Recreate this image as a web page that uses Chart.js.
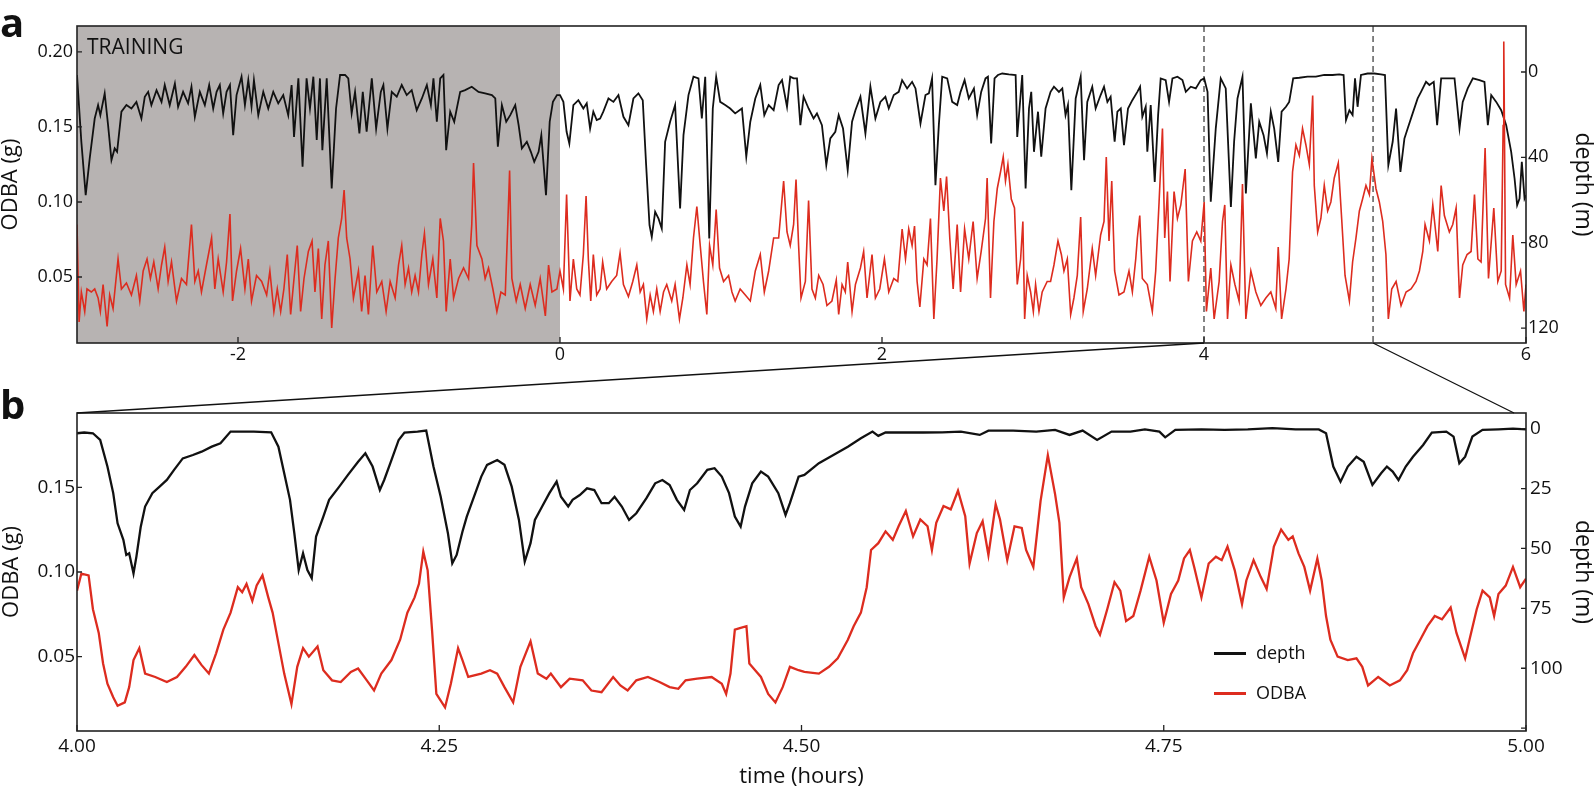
<!DOCTYPE html>
<html>
<head>
<meta charset="utf-8">
<script src="https://cdn.jsdelivr.net/npm/chart.js@4.4.1/dist/chart.umd.min.js"></script>
<style>
  body { margin: 0; background: #fff; }
  #wrap { position: relative; width: 1594px; height: 791px; font-family: "Open Sans", sans-serif; color: #111; }
  canvas { position: absolute; left: 0; top: 0; }
  .tag { position: absolute; font-weight: bold; font-size: 40px; line-height: 1; }
  .note { position: absolute; font-size: 21px; line-height: 1; }
  .key { position: absolute; height: 2.5px; width: 32px; }
  .keytxt { position: absolute; font-size: 18px; line-height: 20px; }
</style>
</head>
<body>
<div id="wrap">
  <canvas id="chartA" width="1594" height="791"></canvas>
  <canvas id="chartB" width="1594" height="791"></canvas>
  <div class="tag" style="left:0px; top:2px">a</div>
  <div class="tag" style="left:0px; top:384px">b</div>
  <div class="note" style="left:87px; top:36px">TRAINING</div>
  <div class="key" style="left:1214px; top:652px; background:#111"></div>
  <div class="keytxt" style="left:1256px; top:642px">depth</div>
  <div class="key" style="left:1214px; top:692px; background:#dd2c1f"></div>
  <div class="keytxt" style="left:1256px; top:682px">ODBA</div>
</div>
<script>
// panel a: whole record (hours), depth in m, ODBA in g
const aDepthTime = [
  -3.0,-2.973,-2.946,-2.921,-2.890,-2.869,-2.855,-2.828,-2.807,-2.786,-2.766,-2.751,-2.724,-2.693,-2.662,-2.631,-2.600,-2.579,-2.558,-2.538,
  -2.506,-2.475,-2.455,-2.424,-2.392,-2.372,-2.341,-2.310,-2.289,-2.268,-2.237,-2.206,-2.179,-2.154,-2.133,-2.113,-2.092,-2.071,-2.050,-2.030,
  -2.009,-1.978,-1.957,-1.936,-1.916,-1.901,-1.874,-1.843,-1.812,-1.781,-1.750,-1.719,-1.688,-1.667,-1.652,-1.625,-1.599,-1.574,-1.553,-1.532,
  -1.511,-1.491,-1.476,-1.449,-1.418,-1.391,-1.366,-1.335,-1.315,-1.294,-1.273,-1.246,-1.225,-1.201,-1.169,-1.142,-1.113,-1.097,-1.072,-1.045,
  -1.014,-0.983,-0.952,-0.921,-0.890,-0.858,-0.827,-0.802,-0.786,-0.765,-0.744,-0.724,-0.707,-0.682,-0.657,-0.641,-0.620,-0.589,-0.548,-0.506,
  -0.465,-0.423,-0.402,-0.386,-0.361,-0.334,-0.309,-0.278,-0.257,-0.237,-0.206,-0.181,-0.160,-0.133,-0.116,-0.087,-0.064,-0.044,-0.019,
  0.000,0.021,0.041,0.058,0.083,0.114,0.145,0.166,0.187,0.207,0.228,0.249,0.269,0.301,0.332,0.363,0.394,0.425,0.456,0.487,
  0.514,0.535,0.556,0.570,0.591,0.612,0.632,0.653,0.684,0.715,0.746,0.767,0.798,0.829,0.860,0.881,0.902,0.927,0.949,0.970,
  0.995,1.026,1.057,1.088,1.130,1.157,1.182,1.213,1.244,1.269,1.296,1.327,1.358,1.379,1.410,1.430,1.451,1.472,1.493,1.513,
  1.544,1.575,1.596,1.627,1.654,1.679,1.710,1.731,1.758,1.787,1.814,1.835,1.866,1.897,1.928,1.959,1.990,2.021,2.042,2.073,
  2.104,2.125,2.156,2.187,2.208,2.239,2.270,2.291,2.311,2.332,2.353,2.374,2.405,2.436,2.467,2.488,2.513,2.539,2.571,2.591,
  2.616,2.643,2.658,2.678,2.699,2.720,2.747,2.788,2.830,2.840,2.871,2.892,2.913,2.927,2.944,2.969,2.989,
  3.016,3.047,3.068,3.099,3.120,3.140,3.155,3.176,3.203,3.234,3.255,3.275,3.306,3.327,3.358,3.379,3.400,3.420,3.445,3.462,
  3.483,3.503,3.528,3.555,3.586,3.603,3.617,3.638,3.648,3.669,3.694,3.715,3.731,3.762,3.783,3.804,3.835,3.866,3.887,3.918,
  3.949,3.980,4.001,4.022,4.042,4.073,4.104,4.135,4.167,4.187,4.208,4.239,4.260,4.291,4.322,4.343,4.370,4.391,4.415,4.436,
  4.461,4.482,4.509,4.529,4.554,4.592,4.643,4.695,4.747,4.799,4.840,4.867,4.882,4.903,4.923,4.938,4.954,4.975,5.016,5.058,
  5.099,5.124,5.145,5.172,5.193,5.220,5.245,5.265,5.296,5.327,5.348,5.379,5.400,5.427,5.448,5.473,5.514,5.556,5.587,5.607,
  5.638,5.670,5.711,5.742,5.763,5.784,5.815,5.846,5.877,5.908,5.929,5.945,5.960,5.974,5.991,6.000
];
const aDepth = [
  1.4,32.7,57.7,40.5,21.8,15.5,20.2,10.0,24.9,41.3,35.8,37.4,18.6,15.5,17.1,14.0,21.8,11.6,9.3,15.5,
  8.5,14.0,6.1,15.5,5.4,16.3,9.3,14.7,6.9,21.0,9.3,15.5,6.1,17.1,9.3,6.1,19.4,9.3,6.1,29.6,
  10.8,2.2,15.5,3.8,16.3,3.8,20.2,9.3,17.1,9.3,14.7,10.8,20.2,6.1,30.4,3.0,44.4,3.0,17.1,2.2,
  31.9,3.0,36.6,3.0,54.6,17.1,1.4,1.4,3.0,19.4,9.3,28.8,9.3,28.0,3.0,26.5,9.3,6.1,26.5,9.3,
  11.6,6.1,10.8,8.5,17.9,12.4,6.1,15.5,3.0,23.3,3.0,1.4,36.6,18.6,23.3,17.1,9.3,8.5,6.9,9.3,
  10.0,10.8,12.4,35.0,15.5,23.3,20.2,15.5,24.9,35.8,32.7,37.4,42.1,37.4,29.6,57.7,23.3,14.0,10.8,
  10.8,14.0,28.0,33.5,15.5,13.2,17.1,14.7,26.5,18.6,22.5,21.8,18.6,12.4,14.0,10.8,21.0,24.9,12.4,10.0,
  13.2,43.6,71.8,77.3,65.5,68.7,73.3,32.7,23.3,15.5,64.0,29.6,10.8,2.2,3.0,21.8,2.2,78.0,17.1,2.2,
  14.0,15.5,17.1,19.4,17.1,39.7,23.3,12.4,6.1,20.2,15.5,17.9,6.1,3.8,16.3,2.2,3.0,3.0,24.9,11.6,
  17.1,21.8,19.4,24.9,43.6,31.1,28.0,20.2,26.5,46.0,23.3,17.9,11.6,28.8,6.9,21.8,14.0,11.6,17.1,10.8,
  9.3,3.8,7.7,4.6,7.7,24.1,10.8,10.0,3.0,53.0,24.9,2.2,3.0,14.0,15.5,9.3,3.8,12.4,7.7,20.2,
  9.3,3.0,2.2,33.5,3.0,1.4,0.7,1.1,1.4,30.4,1.4,54.6,17.1,9.3,37.4,18.6,39.7,
  17.1,9.3,6.9,9.3,7.7,20.2,15.5,55.4,12.4,2.2,41.3,14.0,6.9,17.1,10.8,6.9,14.0,11.6,32.7,18.6,
  17.1,34.3,17.1,13.2,9.3,6.9,21.0,16.3,37.4,15.5,51.5,20.2,3.0,3.8,14.0,3.0,2.2,3.8,9.3,6.9,
  7.7,3.8,3.0,9.3,60.8,26.5,3.0,7.7,63.2,32.7,12.4,2.2,56.9,14.7,40.5,23.3,29.6,38.2,18.6,26.5,
  42.1,18.6,16.3,14.0,3.0,2.7,2.2,2.2,1.4,1.4,1.1,1.4,22.5,17.9,20.2,3.0,16.3,1.4,0.7,0.7,
  1.1,1.4,43.6,32.7,17.1,46.8,31.1,26.5,19.4,12.4,9.3,4.6,6.1,4.6,24.9,3.0,3.0,3.0,26.5,14.0,
  7.7,3.0,3.8,4.6,24.9,10.8,14.0,17.9,24.9,37.4,49.9,62.4,59.3,42.1,59.3,57.7
];
const aOdbaTime = [
  -3.0,-2.987,-2.973,-2.952,-2.938,-2.911,-2.890,-2.869,-2.855,-2.838,-2.813,-2.797,-2.776,-2.745,-2.724,-2.693,-2.662,-2.631,-2.610,-2.589,
  -2.565,-2.544,-2.523,-2.496,-2.475,-2.455,-2.434,-2.413,-2.382,-2.351,-2.320,-2.289,-2.268,-2.247,-2.227,-2.196,-2.164,-2.144,-2.123,-2.092,
  -2.071,-2.050,-2.034,-2.009,-1.984,-1.957,-1.936,-1.916,-1.885,-1.853,-1.822,-1.802,-1.777,-1.756,-1.735,-1.715,-1.694,-1.673,-1.652,-1.632,
  -1.611,-1.590,-1.563,-1.540,-1.522,-1.501,-1.480,-1.460,-1.439,-1.418,-1.397,-1.377,-1.356,-1.341,-1.325,-1.304,-1.283,-1.252,-1.232,-1.211,
  -1.190,-1.163,-1.138,-1.107,-1.080,-1.055,-1.024,-1.003,-0.983,-0.962,-0.941,-0.921,-0.900,-0.879,-0.858,-0.842,-0.817,-0.790,-0.765,-0.744,
  -0.724,-0.707,-0.682,-0.661,-0.630,-0.599,-0.568,-0.548,-0.537,-0.516,-0.485,-0.465,-0.444,-0.417,-0.392,-0.367,-0.340,-0.326,-0.313,-0.299,
  -0.272,-0.247,-0.216,-0.185,-0.154,-0.123,-0.091,-0.071,-0.050,-0.019,
  0.000,0.021,0.041,0.062,0.083,0.104,0.124,0.145,0.162,0.176,0.191,0.207,0.228,0.249,0.265,0.290,0.321,0.352,0.373,0.394,
  0.425,0.452,0.477,0.498,0.518,0.539,0.560,0.580,0.601,0.622,0.643,0.663,0.694,0.715,0.742,0.763,0.788,0.808,0.829,0.850,
  0.871,0.891,0.912,0.929,0.949,0.970,0.991,1.016,1.047,1.068,1.088,1.119,1.151,1.182,1.213,1.244,1.269,1.296,1.327,1.358,
  1.389,1.410,1.430,1.451,1.466,1.482,1.497,1.524,1.544,1.565,1.586,1.607,1.634,1.658,1.689,1.716,1.731,1.752,1.772,1.787,
  1.814,1.835,1.866,1.886,1.907,1.938,1.959,1.986,2.015,2.042,2.073,2.098,2.125,2.146,2.166,2.187,2.202,2.218,2.235,2.260,
  2.280,2.301,2.322,2.342,2.363,2.384,2.401,2.421,2.442,2.467,2.488,2.513,2.539,2.566,2.591,2.616,2.643,2.653,2.674,2.695,
  2.716,2.736,2.753,2.767,2.782,2.803,2.823,2.840,2.861,2.875,2.886,2.902,2.923,2.940,2.954,2.975,
  2.995,3.026,3.047,3.068,3.093,3.114,3.130,3.151,3.172,3.192,3.213,3.234,3.250,3.275,3.306,3.327,3.358,3.379,3.393,3.410,
  3.427,3.445,3.472,3.503,3.534,3.555,3.576,3.586,3.601,3.617,3.648,3.679,3.700,3.721,3.742,3.756,3.773,3.789,3.814,3.835,
  3.856,3.883,3.903,3.928,3.955,3.980,4.001,4.015,4.042,4.063,4.094,4.115,4.129,4.146,4.167,4.192,4.218,4.239,4.260,4.291,
  4.322,4.353,4.384,4.415,4.446,4.461,4.482,4.509,4.529,4.550,4.571,4.592,4.612,4.633,4.654,4.675,4.685,4.706,4.726,4.747,
  4.768,4.788,4.809,4.834,4.855,4.876,4.903,4.923,4.944,4.965,4.985,5.006,5.027,5.043,5.068,5.089,5.110,5.130,5.145,5.166,
  5.193,5.224,5.255,5.286,5.317,5.338,5.359,5.373,5.400,5.421,5.452,5.473,5.493,5.524,5.545,5.566,5.587,5.607,5.634,5.659,
  5.680,5.701,5.721,5.746,5.767,5.800,5.825,5.846,5.858,5.862,5.866,5.873,5.898,5.918,5.939,5.966,5.987,6.000
];
const aOdba = [
  0.085,0.020,0.040,0.027,0.042,0.040,0.042,0.036,0.027,0.045,0.017,0.038,0.029,0.062,0.042,0.046,0.038,0.051,0.034,0.054,
  0.062,0.049,0.060,0.042,0.058,0.070,0.047,0.060,0.034,0.049,0.045,0.085,0.047,0.054,0.040,0.058,0.076,0.042,0.062,0.040,
  0.060,0.092,0.034,0.054,0.069,0.042,0.062,0.034,0.051,0.047,0.038,0.054,0.027,0.042,0.027,0.042,0.065,0.025,0.049,0.071,
  0.027,0.049,0.067,0.074,0.040,0.069,0.022,0.058,0.074,0.016,0.049,0.076,0.089,0.108,0.076,0.062,0.036,0.054,0.027,0.051,
  0.025,0.071,0.040,0.047,0.027,0.047,0.036,0.058,0.071,0.045,0.056,0.040,0.051,0.040,0.065,0.079,0.045,0.062,0.036,0.089,
  0.074,0.027,0.062,0.036,0.049,0.056,0.049,0.085,0.126,0.071,0.062,0.049,0.056,0.042,0.027,0.040,0.038,0.080,0.121,0.049,
  0.034,0.045,0.029,0.045,0.031,0.049,0.024,0.058,0.040,0.042,
  0.054,0.042,0.105,0.034,0.062,0.042,0.038,0.065,0.104,0.062,0.034,0.065,0.038,0.042,0.060,0.042,0.047,0.051,0.066,0.045,
  0.037,0.047,0.058,0.040,0.045,0.022,0.038,0.027,0.042,0.027,0.040,0.045,0.034,0.045,0.022,0.036,0.058,0.045,0.076,0.097,
  0.071,0.047,0.025,0.071,0.058,0.095,0.056,0.047,0.051,0.040,0.034,0.042,0.038,0.034,0.054,0.065,0.040,0.054,0.076,0.076,
  0.114,0.080,0.071,0.085,0.115,0.071,0.036,0.047,0.101,0.042,0.036,0.051,0.045,0.031,0.034,0.048,0.025,0.045,0.040,0.060,
  0.027,0.045,0.056,0.067,0.036,0.065,0.036,0.042,0.062,0.040,0.049,0.047,0.082,0.062,0.082,0.071,0.084,0.047,0.030,0.062,
  0.058,0.089,0.022,0.062,0.116,0.094,0.117,0.076,0.042,0.085,0.040,0.082,0.062,0.087,0.049,0.067,0.089,0.116,0.036,0.087,
  0.109,0.120,0.130,0.114,0.125,0.102,0.096,0.045,0.062,0.087,0.022,0.051,0.040,0.027,0.045,0.027,
  0.040,0.047,0.047,0.058,0.074,0.065,0.054,0.062,0.025,0.036,0.051,0.090,0.027,0.042,0.069,0.051,0.078,0.087,0.130,0.074,
  0.114,0.054,0.038,0.040,0.054,0.040,0.062,0.076,0.091,0.049,0.045,0.027,0.054,0.100,0.149,0.076,0.107,0.047,0.107,0.089,
  0.098,0.122,0.047,0.074,0.080,0.074,0.100,0.027,0.056,0.022,0.047,0.087,0.098,0.022,0.058,0.045,0.034,0.112,0.022,0.054,
  0.040,0.031,0.036,0.040,0.029,0.070,0.022,0.042,0.062,0.120,0.138,0.131,0.149,0.138,0.125,0.171,0.111,0.080,0.089,0.111,
  0.094,0.100,0.116,0.126,0.089,0.051,0.034,0.060,0.076,0.094,0.102,0.111,0.105,0.129,0.109,0.100,0.087,0.065,0.022,0.042,
  0.047,0.031,0.040,0.042,0.047,0.054,0.067,0.085,0.074,0.098,0.067,0.111,0.091,0.080,0.085,0.096,0.036,0.058,0.065,0.067,
  0.105,0.062,0.060,0.136,0.049,0.096,0.047,0.054,0.151,0.207,0.151,0.045,0.036,0.078,0.045,0.054,0.027,0.045
];

// panel b: zoom on 4.00-5.00 h
const bDepthTime = [
  4.000,4.005,4.011,4.016,4.021,4.025,4.028,4.032,4.034,4.036,4.039,4.041,4.044,4.047,4.052,4.057,4.062,4.067,4.073,4.080,
  4.086,4.093,4.099,4.106,4.113,4.122,4.134,4.139,4.143,4.147,4.150,4.153,4.156,4.159,4.162,4.165,4.170,4.174,4.181,4.187,
  4.194,4.199,4.204,4.209,4.212,4.217,4.222,4.226,4.235,4.241,4.246,4.251,4.256,4.259,4.262,4.266,4.269,4.274,4.279,4.283,
  4.290,4.295,4.300,4.305,4.309,4.313,4.316,4.321,4.326,4.331,4.334,4.339,4.342,4.347,4.352,4.357,4.362,4.367,4.371,4.376,
  4.381,4.386,4.393,4.399,4.404,4.409,4.414,4.419,4.423,4.428,4.435,4.440,4.445,4.450,4.454,4.458,4.461,4.466,4.472,4.477,
  4.484,4.489,4.492,4.498,4.502,4.512,4.522,4.532,4.541,4.549,4.553,4.558,4.571,4.584,4.597,4.610,4.623,4.629,4.646,4.662,
  4.675,4.685,4.694,4.704,4.714,4.727,4.737,4.747,4.751,4.758,4.776,4.792,4.808,4.825,4.841,4.857,4.862,4.867,4.872,4.877,
  4.883,4.888,4.894,4.900,4.904,4.908,4.912,4.917,4.922,4.929,4.935,4.945,4.950,4.954,4.958,4.963,4.970,4.981,4.991,5.000
];
const bDepth = [
  1.9,1.6,1.9,4.7,15.8,26.9,39.5,46.4,52.7,52.0,60.4,53.4,40.9,32.5,26.9,24.2,21.4,17.2,12.4,11.0,
  9.6,7.5,6.1,1.2,1.2,1.2,1.5,7.5,18.6,29.7,43.7,59.0,52.0,59.0,62.4,45.0,36.7,29.7,24.2,19.3,
  13.8,10.3,15.8,25.6,21.4,13.1,4.7,1.6,1.2,0.8,15.8,28.4,43.7,56.2,52.7,43.0,36.7,28.4,20.0,15.1,
  13.1,15.1,24.2,38.1,55.5,47.8,38.1,32.5,26.9,22.1,28.4,32.5,29.7,27.7,24.9,25.6,31.1,31.1,28.4,32.5,
  38.1,35.3,29.0,22.8,21.4,23.5,29.7,33.9,25.6,22.8,17.2,16.5,20.0,26.9,36.7,40.9,32.5,22.8,17.9,20.0,
  26.9,36.0,31.1,20.0,19.3,14.4,11.0,7.5,4.0,1.2,3.0,1.6,1.6,1.6,1.5,1.2,2.6,0.8,0.8,1.2,
  0.5,2.6,0.8,4.7,1.2,1.2,0.3,1.2,3.6,0.5,0.3,0.5,0.3,-0.2,0.3,0.3,1.9,15.8,22.1,15.8,
  11.7,13.8,23.5,18.6,15.8,17.9,21.4,15.8,11.7,6.8,1.6,1.2,3.3,14.4,11.7,3.3,0.5,0.3,0.0,0.3
];
const bOdbaTime = [
  4.000,4.003,4.008,4.011,4.015,4.018,4.021,4.025,4.028,4.033,4.036,4.039,4.043,4.047,4.054,4.062,4.069,4.075,4.081,4.086,
  4.091,4.096,4.101,4.106,4.111,4.114,4.117,4.121,4.124,4.128,4.132,4.135,4.139,4.143,4.148,4.152,4.156,4.160,4.166,4.170,
  4.176,4.182,4.189,4.194,4.200,4.205,4.210,4.217,4.223,4.228,4.233,4.236,4.239,4.242,4.245,4.248,4.251,4.254,4.258,4.263,
  4.266,4.270,4.279,4.285,4.290,4.295,4.301,4.306,4.313,4.318,4.324,4.327,4.334,4.340,4.349,4.355,4.362,4.370,4.375,4.380,
  4.386,4.394,4.402,4.409,4.415,4.420,4.428,4.438,4.445,4.448,4.451,4.454,4.458,4.462,4.464,4.468,4.472,4.477,4.482,4.487,
  4.492,4.498,4.502,4.512,4.519,4.525,4.532,4.536,4.541,4.545,4.548,4.553,4.558,4.563,4.567,4.572,4.577,4.582,4.587,4.590,
  4.593,4.598,4.603,4.608,4.613,4.616,4.621,4.625,4.629,4.634,4.637,4.642,4.647,4.652,4.655,4.660,4.665,4.670,4.675,4.678,
  4.681,4.685,4.690,4.693,4.698,4.703,4.706,4.711,4.716,4.720,4.724,4.729,4.734,4.740,4.745,4.750,4.755,4.760,4.764,4.768,
  4.771,4.776,4.781,4.786,4.790,4.794,4.799,4.804,4.807,4.812,4.817,4.821,4.826,4.831,4.836,4.839,4.843,4.847,4.851,4.856,
  4.859,4.862,4.865,4.870,4.877,4.883,4.887,4.891,4.898,4.906,4.913,4.918,4.922,4.927,4.932,4.937,4.942,4.948,4.952,4.958,
  4.961,4.966,4.970,4.975,4.978,4.981,4.986,4.991,4.996,5.000
];
const bOdba = [
  0.089,0.099,0.098,0.078,0.064,0.046,0.034,0.026,0.021,0.023,0.032,0.048,0.055,0.040,0.038,0.035,0.038,0.044,0.051,0.045,
  0.040,0.052,0.066,0.076,0.091,0.088,0.093,0.083,0.092,0.098,0.085,0.076,0.058,0.040,0.022,0.044,0.055,0.050,0.056,0.042,
  0.036,0.035,0.041,0.043,0.036,0.030,0.040,0.048,0.060,0.076,0.085,0.093,0.112,0.101,0.066,0.028,0.024,0.020,0.034,0.055,
  0.048,0.038,0.040,0.042,0.040,0.032,0.023,0.044,0.059,0.040,0.037,0.040,0.032,0.037,0.036,0.030,0.029,0.038,0.033,0.030,
  0.036,0.038,0.035,0.032,0.031,0.036,0.037,0.038,0.034,0.028,0.040,0.066,0.067,0.068,0.046,0.042,0.038,0.028,0.023,0.032,
  0.044,0.042,0.041,0.040,0.044,0.049,0.060,0.068,0.076,0.091,0.113,0.117,0.124,0.119,0.127,0.136,0.121,0.131,0.127,0.113,
  0.129,0.139,0.137,0.148,0.133,0.105,0.123,0.130,0.110,0.140,0.131,0.107,0.127,0.126,0.113,0.103,0.142,0.169,0.146,0.129,
  0.085,0.097,0.108,0.091,0.081,0.068,0.063,0.078,0.094,0.089,0.071,0.074,0.089,0.109,0.095,0.070,0.087,0.095,0.108,0.113,
  0.103,0.085,0.105,0.109,0.107,0.115,0.101,0.081,0.095,0.107,0.097,0.090,0.115,0.125,0.119,0.121,0.111,0.103,0.089,0.108,
  0.095,0.074,0.060,0.050,0.048,0.049,0.044,0.033,0.038,0.033,0.036,0.042,0.052,0.060,0.068,0.074,0.072,0.079,0.064,0.049,
  0.060,0.078,0.089,0.085,0.074,0.087,0.092,0.103,0.091,0.096
];

const aXTicks = [-2, 0, 2, 4, 6];
const aOdbaTicks = [0.05, 0.10, 0.15, 0.20];
const aDepthTicks = [0, 40, 80, 120];
const bXTicks = [4.00, 4.25, 4.50, 4.75, 5.00];
const bOdbaTicks = [0.05, 0.10, 0.15];
const bDepthTicks = [0, 25, 50, 75, 100, 125];
const bDepthLabels = ['0', '25', '50', '75', '100', ''];
const trainingSpan = [-3, 0];
const zoomSpan = [4, 5.05];

const RED = '#dd2c1f';
const INK = '#111';

Chart.defaults.font.family = '"Open Sans", sans-serif';
Chart.defaults.color = INK;

const pairs = (xs, ys) => xs.map((x, i) => ({ x: x, y: ys[i] }));
const fixTicks = (list) => (scale) => { scale.ticks = list.map(v => ({ value: v })); };

// frame, inward ticks, shading, dashed markers
const framePlugin = {
    id: 'frame',
    beforeDatasetsDraw(chart, args, opts) {
        const { ctx, chartArea: a, scales } = chart;
        ctx.save();
        if (opts.shade) {
            const x0 = scales.x.getPixelForValue(opts.shade[0]);
            const x1 = scales.x.getPixelForValue(opts.shade[1]);
            ctx.fillStyle = '#b7b3b2';
            ctx.fillRect(x0, a.top, x1 - x0, a.bottom - a.top);
        }
        if (opts.marks) {
            ctx.strokeStyle = '#333';
            ctx.lineWidth = 1.2;
            ctx.setLineDash([6, 4]);
            opts.marks.forEach(v => {
                const p = scales.x.getPixelForValue(v);
                ctx.beginPath();
                ctx.moveTo(p, a.top);
                ctx.lineTo(p, a.bottom);
                ctx.stroke();
            });
            ctx.setLineDash([]);
        }
        ctx.restore();
    },
    afterDatasetsDraw(chart) {
        const { ctx, chartArea: a, scales } = chart;
        ctx.save();
        ctx.strokeStyle = '#222';
        ctx.lineWidth = 1.3;
        ctx.beginPath();
        scales.x.ticks.forEach(t => {
            const p = scales.x.getPixelForValue(t.value);
            ctx.moveTo(p, a.bottom);
            ctx.lineTo(p, a.bottom - 6);
        });
        scales.yl.ticks.forEach(t => {
            const p = scales.yl.getPixelForValue(t.value);
            ctx.moveTo(a.left, p);
            ctx.lineTo(a.left + 5, p);
        });
        scales.yr.ticks.forEach(t => {
            const p = scales.yr.getPixelForValue(t.value);
            ctx.moveTo(a.right, p);
            ctx.lineTo(a.right - 5, p);
        });
        ctx.stroke();
        ctx.lineWidth = 1.6;
        ctx.strokeRect(a.left, a.top, a.right - a.left, a.bottom - a.top);
        ctx.restore();
    }
};

const baseScale = (extra) => Object.assign({
    type: 'linear',
    grid: { display: false, drawTicks: false },
    border: { display: false }
}, extra);

const chartA = new Chart(document.getElementById('chartA'), {
    type: 'line',
    data: {
        datasets: [{
            label: 'ODBA',
            data: pairs(aOdbaTime, aOdba),
            yAxisID: 'yl',
            borderColor: RED,
            borderWidth: 1.6
        }, {
            label: 'depth',
            data: pairs(aDepthTime, aDepth),
            yAxisID: 'yr',
            borderColor: INK,
            borderWidth: 1.8
        }]
    },
    options: {
        responsive: false,
        animation: false,
        events: [],
        elements: { point: { radius: 0 }, line: { tension: 0 } },
        layout: { padding: { left: 0, right: 0, top: 26, bottom: 408 } },
        plugins: {
            legend: { display: false },
            tooltip: { enabled: false },
            frame: { shade: trainingSpan, marks: zoomSpan }
        },
        scales: {
            x: baseScale({
                min: -3, max: 6,
                afterBuildTicks: fixTicks(aXTicks),
                afterFit: s => { s.height = 40; },
                ticks: { padding: 1, font: { size: 18 }, maxRotation: 0, autoSkip: false, callback: v => String(v) }
            }),
            yl: baseScale({
                position: 'left', min: 0.006, max: 0.2173,
                afterBuildTicks: fixTicks(aOdbaTicks),
                afterFit: s => { s.width = 77; },
                ticks: { padding: 4, font: { size: 18 }, autoSkip: false, callback: v => v.toFixed(2) },
                title: { display: true, text: 'ODBA (g)', font: { size: 22, lineHeight: 1 }, padding: { top: 0, bottom: 0 } }
            }),
            yr: baseScale({
                position: 'right', reverse: true, min: -21.56, max: 127,
                afterBuildTicks: fixTicks(aDepthTicks),
                afterFit: s => { s.width = 68; },
                ticks: { padding: 2, font: { size: 18 }, autoSkip: false, callback: v => String(v) },
                title: { display: true, text: 'depth (m)', font: { size: 23, lineHeight: 1 }, padding: { top: 0, bottom: 0 } }
            })
        }
    },
    plugins: [framePlugin]
});

// lines joining the zoom window of panel a to panel b
const connectPlugin = {
    id: 'connect',
    afterDraw(chart) {
        const { ctx, chartArea: b } = chart;
        const a = chartA.chartArea;
        const xa = chartA.scales.x;
        ctx.save();
        ctx.strokeStyle = '#111';
        ctx.lineWidth = 1.3;
        ctx.beginPath();
        ctx.moveTo(xa.getPixelForValue(zoomSpan[0]), a.bottom);
        ctx.lineTo(b.left, b.top);
        ctx.moveTo(xa.getPixelForValue(zoomSpan[1]), a.bottom);
        ctx.lineTo(b.right - 12, b.top);
        ctx.stroke();
        ctx.restore();
    }
};

new Chart(document.getElementById('chartB'), {
    type: 'line',
    data: {
        datasets: [{
            label: 'ODBA',
            data: pairs(bOdbaTime, bOdba),
            yAxisID: 'yl',
            borderColor: RED,
            borderWidth: 2.3
        }, {
            label: 'depth',
            data: pairs(bDepthTime, bDepth),
            yAxisID: 'yr',
            borderColor: INK,
            borderWidth: 2.3
        }]
    },
    options: {
        responsive: false,
        animation: false,
        events: [],
        elements: { point: { radius: 0 }, line: { tension: 0 } },
        layout: { padding: { left: 0, right: 0, top: 413, bottom: 0 } },
        plugins: {
            legend: { display: false },
            tooltip: { enabled: false },
            frame: {}
        },
        scales: {
            x: baseScale({
                min: 4, max: 5,
                afterBuildTicks: fixTicks(bXTicks),
                afterFit: s => { s.height = 60; },
                ticks: { padding: 4, font: { size: 19 }, maxRotation: 0, autoSkip: false, callback: v => v.toFixed(2) },
                title: { display: true, text: 'time (hours)', font: { size: 22, lineHeight: 1 }, padding: { top: 0, bottom: 3 } }
            }),
            yl: baseScale({
                position: 'left', min: 0.0061, max: 0.1939,
                afterBuildTicks: fixTicks(bOdbaTicks),
                afterFit: s => { s.width = 77; },
                ticks: { padding: 2, font: { size: 19 }, autoSkip: false, callback: v => v.toFixed(2) },
                title: { display: true, text: 'ODBA (g)', font: { size: 22, lineHeight: 1 }, padding: { top: 1, bottom: 0 } }
            }),
            yr: baseScale({
                position: 'right', reverse: true, min: -6.55, max: 126.2,
                afterBuildTicks: fixTicks(bDepthTicks),
                afterFit: s => { s.width = 68; },
                ticks: { padding: 4, font: { size: 19 }, autoSkip: false, callback: (v, i) => bDepthLabels[i] },
                title: { display: true, text: 'depth (m)', font: { size: 23, lineHeight: 1 }, padding: { top: 0, bottom: 0 } }
            })
        }
    },
    plugins: [framePlugin, connectPlugin]
});
</script>
</body>
</html>
